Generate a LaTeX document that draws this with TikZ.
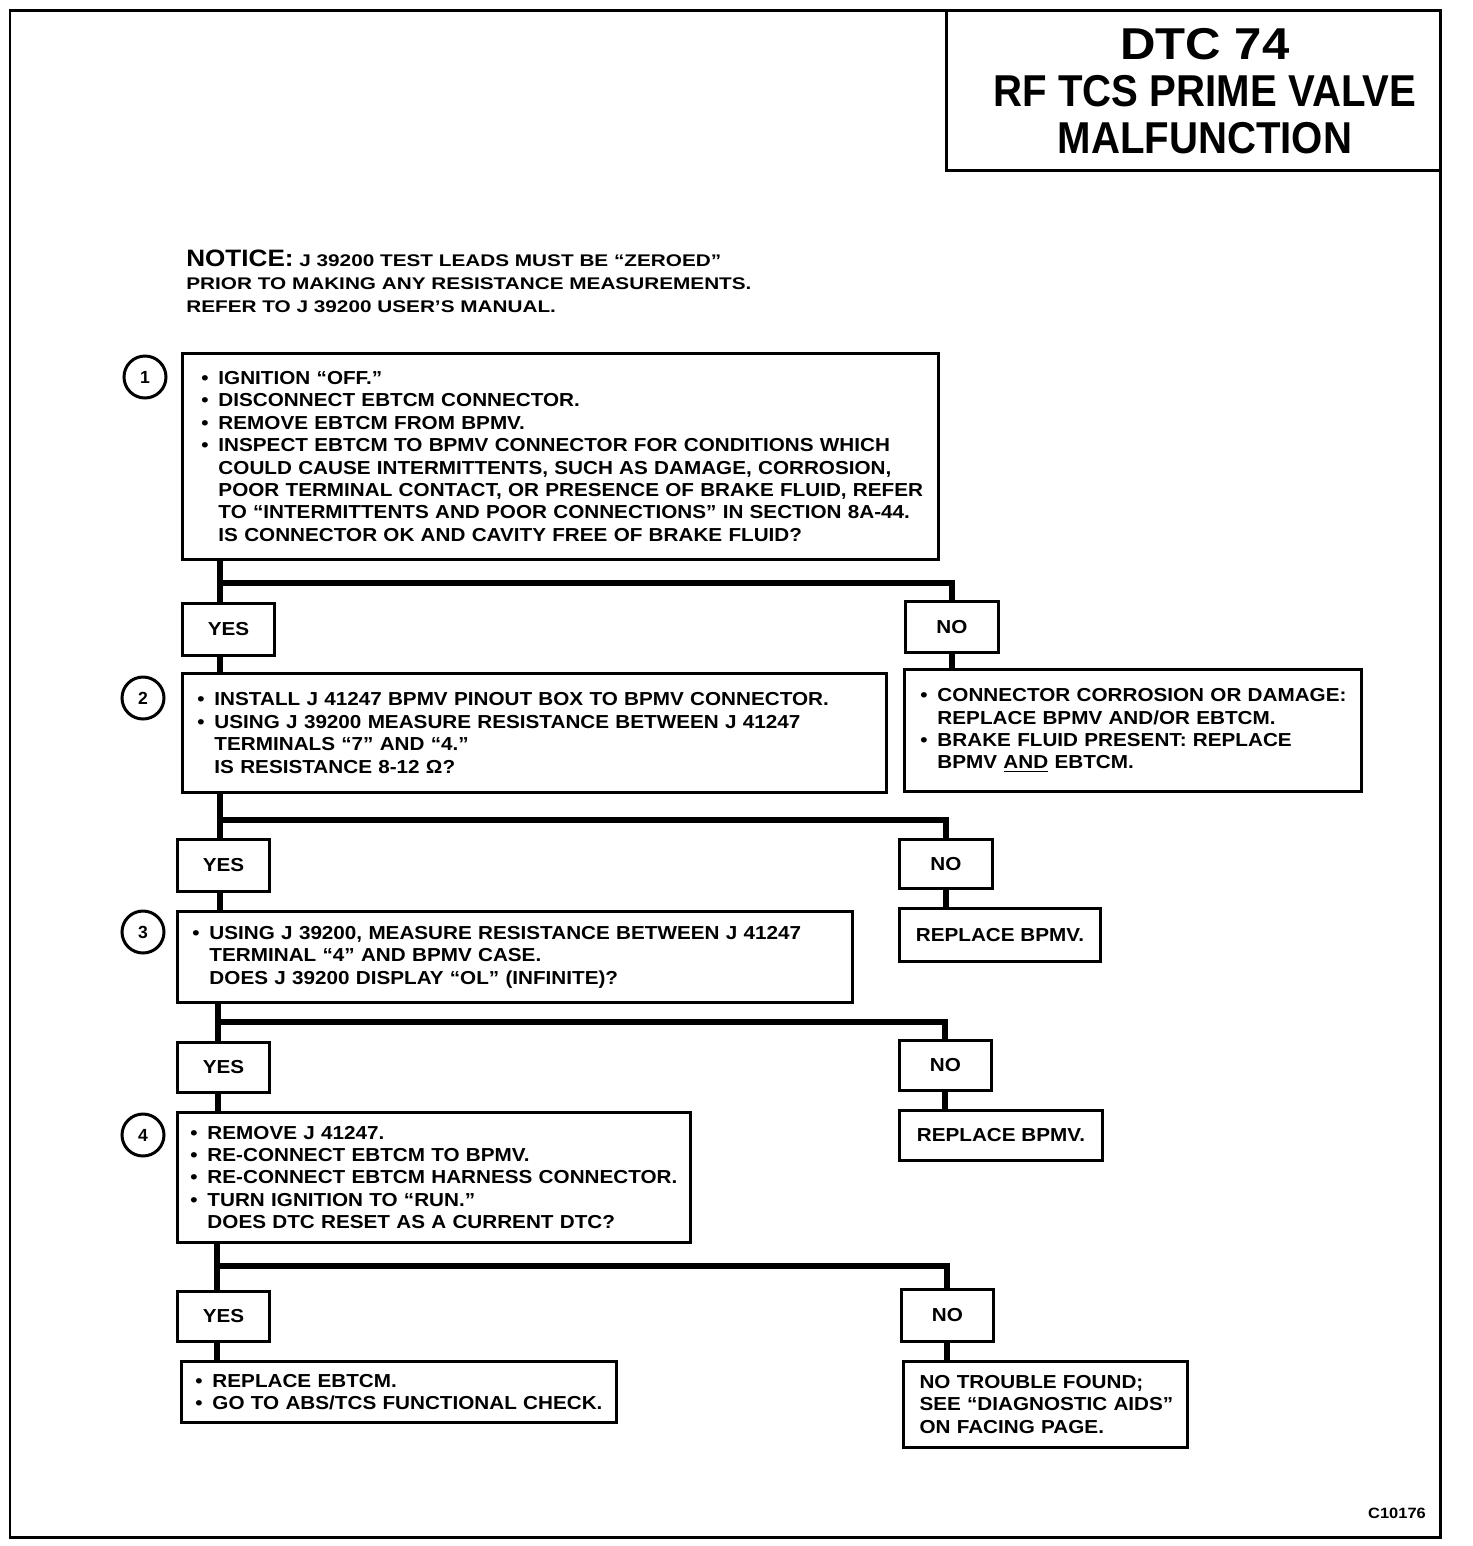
\documentclass[tikz,border=0pt]{standalone}
\usepackage{fontspec}
\setmainfont{Liberation Sans}
\newfontfamily\titlefont{Liberation Sans}[FakeStretch=0.9]
\newfontfamily\widefont{Liberation Sans}[FakeStretch=1.1]
\newfontfamily\noticefont{Liberation Sans}[FakeStretch=1.23]
\usetikzlibrary{positioning, calc}
\newcommand{\bodytext}{\widefont\bfseries\fontsize{10.7}{12.75}\selectfont}
\newcommand{\bul}{\leavevmode\llap{\textbullet\hspace{0.2cm}}}
\tikzstyle{stepbox} = [draw, rectangle, line width=0.06cm, anchor=north west, inner xsep=0.1cm, inner ysep=0pt, align=left, font=\bodytext]
\tikzstyle{answer} = [draw, rectangle, line width=0.06cm, anchor=north west, inner sep=0pt, align=center, font=\bodytext]
\tikzstyle{stepnum} = [draw, circle, line width=0.06cm, minimum size=0.84cm, inner sep=0pt, font=\bfseries\fontsize{10}{10}\selectfont]
\tikzstyle{branch} = [line width=0.12cm]

\begin{document}
\begin{tikzpicture}[x=0.02cm, y=-0.02cm]
    \useasboundingbox (0,0) rectangle (1472,1546);
    % Frame and title
    \draw[line width=0.06cm] (10,10) rectangle (1440,1537);
    \draw[line width=0.06cm] (946,10) -- (946,170) -- (1440,170);
    \node[align=center, font=\titlefont\bfseries\fontsize{25.4}{26.7}\selectfont] (title) at (1205,91)
        {{\widefont DTC 74}\\RF TCS PRIME VALVE\\MALFUNCTION};
    \node[anchor=north west, align=left, inner sep=0pt, font=\noticefont\bfseries\fontsize{9.6}{13}\selectfont] (notice) at (186,250)
        {{\widefont\fontsize{13.5}{13.5}\selectfont NOTICE:} J 39200 TEST LEADS MUST BE “ZEROED”\\PRIOR TO MAKING ANY RESISTANCE MEASUREMENTS.\\REFER TO J 39200 USER’S MANUAL.};

    % Step 1
    \node[stepnum] (c1) at (145,377) {1};
    \node[stepbox, text width=14.92cm, minimum height=4.12cm] (s1) at (181,352)
        {\parindent=0pt\leftskip=0.62cm
        \bul IGNITION “OFF.”\\
        \bul DISCONNECT EBTCM CONNECTOR.\\
        \bul REMOVE EBTCM FROM BPMV.\\
        \bul INSPECT EBTCM TO BPMV CONNECTOR FOR CONDITIONS WHICH\\
        COULD CAUSE INTERMITTENTS, SUCH AS DAMAGE, CORROSION,\\
        POOR TERMINAL CONTACT, OR PRESENCE OF BRAKE FLUID, REFER\\
        TO “INTERMITTENTS AND POOR CONNECTIONS” IN SECTION 8A-44.\\
        IS CONNECTOR OK AND CAVITY FREE OF BRAKE FLUID?\par};
    \node[answer, minimum width=1.84cm, minimum height=1.04cm] (y1) at (181,602) {YES};
    \node[answer, minimum width=1.86cm, minimum height=1.02cm] (n1) at (904,600) {NO};
    \node[stepbox, text width=8.94cm, minimum height=2.44cm] (r1) at (903,668)
        {\parindent=0pt\leftskip=0.56cm
        \bul CONNECTOR CORROSION OR DAMAGE:\\
        REPLACE BPMV AND/OR EBTCM.\\
        \bul BRAKE FLUID PRESENT: REPLACE\\
        BPMV \underline{AND} EBTCM.\par};

    % Step 2
    \node[stepnum] (c2) at (143,698) {2};
    \node[stepbox, text width=13.88cm, minimum height=2.38cm] (s2) at (181,672)
        {\parindent=0pt\leftskip=0.54cm
        \bul INSTALL J 41247 BPMV PINOUT BOX TO BPMV CONNECTOR.\\
        \bul USING J 39200 MEASURE RESISTANCE BETWEEN J 41247\\
        TERMINALS “7” AND “4.”\\
        IS RESISTANCE 8-12 Ω?\par};
    \node[answer, minimum width=1.84cm, minimum height=1.04cm] (y2) at (176,838) {YES};
    \node[answer, minimum width=1.86cm, minimum height=0.98cm] (n2) at (898,838) {NO};
    \node[answer, minimum width=4.02cm, minimum height=1.06cm] (r2) at (898,907) {REPLACE BPMV.};

    % Step 3
    \node[stepnum] (c3) at (143,932) {3};
    \node[stepbox, text width=13.3cm, minimum height=1.82cm] (s3) at (176,910)
        {\parindent=0pt\leftskip=0.54cm
        \bul USING J 39200, MEASURE RESISTANCE BETWEEN J 41247\\
        TERMINAL “4” AND BPMV CASE.\\
        DOES J 39200 DISPLAY “OL” (INFINITE)?\par};
    \node[answer, minimum width=1.84cm, minimum height=1.0cm] (y3) at (176,1041) {YES};
    \node[answer, minimum width=1.84cm, minimum height=1.0cm] (n3) at (898,1039) {NO};
    \node[answer, minimum width=4.06cm, minimum height=1.0cm] (r3) at (898,1109) {REPLACE BPMV.};

    % Step 4
    \node[stepnum] (c4) at (143,1135) {4};
    \node[stepbox, text width=10.06cm, minimum height=2.6cm] (s4) at (176,1111)
        {\parindent=0pt\leftskip=0.5cm
        \bul REMOVE J 41247.\\
        \bul RE-CONNECT EBTCM TO BPMV.\\
        \bul RE-CONNECT EBTCM HARNESS CONNECTOR.\\
        \bul TURN IGNITION TO “RUN.”\\
        DOES DTC RESET AS A CURRENT DTC?\par};
    \node[answer, minimum width=1.84cm, minimum height=1.0cm] (y4) at (176,1290) {YES};
    \node[answer, minimum width=1.84cm, minimum height=1.04cm] (n4) at (900,1288) {NO};
    \node[stepbox, text width=8.5cm, minimum height=1.22cm] (e1) at (180,1360)
        {\parindent=0pt\leftskip=0.52cm
        \bul REPLACE EBTCM.\\
        \bul GO TO ABS/TCS FUNCTIONAL CHECK.\par};
    \node[stepbox, text width=5.48cm, minimum height=1.72cm] (e2) at (902,1360)
        {\parindent=0pt\leftskip=0.22cm
        NO TROUBLE FOUND;\\
        SEE “DIAGNOSTIC AIDS”\\
        ON FACING PAGE.\par};

    \node[font=\widefont\bfseries\fontsize{8.5}{8.5}\selectfont] (figid) at (1397,1513) {C10176};

    % Branches
    \coordinate (t1) at (220,583);
    \draw[branch] (s1.south -| t1) -- (t1) -| (n1.north);
    \draw[branch] (t1) -- (t1 |- y1.north);
    \draw[branch] (y1.south -| t1) -- (t1 |- s2.north);
    \draw[branch] (n1.south) -- (n1.south |- r1.north);

    \coordinate (t2) at (220,820);
    \draw[branch] (s2.south -| t2) -- (t2) -| (n2.north);
    \draw[branch] (t2) -- (t2 |- y2.north);
    \draw[branch] (y2.south -| t2) -- (t2 |- s3.north);
    \draw[branch] (n2.south) -- (n2.south |- r2.north);

    \coordinate (t3) at (218,1022);
    \draw[branch] (s3.south -| t3) -- (t3) -| (n3.north);
    \draw[branch] (t3) -- (t3 |- y3.north);
    \draw[branch] (y3.south -| t3) -- (t3 |- s4.north);
    \draw[branch] (n3.south) -- (n3.south |- r3.north);

    \coordinate (t4) at (217,1266);
    \draw[branch] (s4.south -| t4) -- (t4) -| (n4.north);
    \draw[branch] (t4) -- (t4 |- y4.north);
    \draw[branch] (y4.south -| t4) -- (t4 |- e1.north);
    \draw[branch] (n4.south) -- (n4.south |- e2.north);
\end{tikzpicture}
\end{document}
